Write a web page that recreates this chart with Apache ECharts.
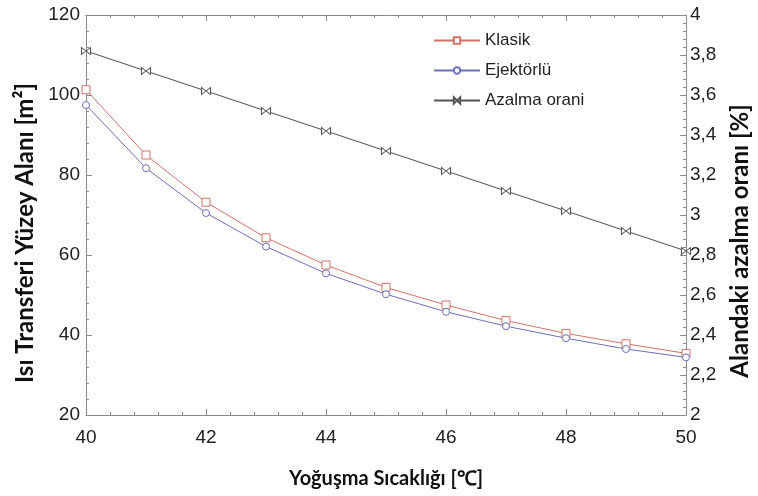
<!DOCTYPE html>
<html>
<head>
    <meta charset="utf-8">
    <title>Yoğuşma Sıcaklığı</title>
    <script src="https://cdn.jsdelivr.net/npm/echarts@6/dist/echarts.min.js"></script>
</head>
<body style="margin: 0">
<div id="main" style="width: 758px; height: 496px"></div>
<script type="text/javascript">
    // condensing temperature [C]
    var temps = [40, 41, 42, 43, 44, 45, 46, 47, 48, 49, 50];
    // heat transfer area [m2]
    var klasik = [101.3, 85.0, 73.2, 64.3, 57.5, 51.9, 47.5, 43.6, 40.4, 37.8, 35.4];
    var ejektorlu = [97.5, 81.7, 70.5, 62.1, 55.4, 50.2, 45.8, 42.2, 39.2, 36.5, 34.4];
    // reduction ratio [%]
    var azalma = [3.82, 3.72, 3.62, 3.52, 3.42, 3.32, 3.22, 3.12, 3.02, 2.92, 2.82];

    var frameColor = '#8a8a8a';
    var labelFont = 'Liberation Sans';
    var titleFont = 'Lato';
    var bowtie = 'path://M0,0L10,10L10,0L0,10Z';

    function pairs(ys) {
        var res = [];
        for (var i = 0; i < temps.length; i++) {
            res.push([temps[i], ys[i]]);
        }
        return res;
    }

    function axisCommon(extra) {
        var base = {
            axisLine: { show: true, lineStyle: { color: frameColor, width: 1 } },
            axisTick: { show: true, inside: true, length: 6, lineStyle: { color: frameColor } },
            minorTick: { show: true, splitNumber: 5, length: 3, lineStyle: { color: frameColor } },
            splitLine: { show: false },
            axisLabel: { color: '#222', fontFamily: labelFont, fontSize: 19 }
        };
        for (var k in extra) base[k] = extra[k];
        return base;
    }

    function titleStyle(size, shiftDown) {
        // padding on the right pushes rotated text downwards
        return {
            fontFamily: titleFont, fontWeight: 'bold', fontSize: size, color: '#111',
            padding: [0, shiftDown * 2, 0, 0]
        };
    }

    var myChart = echarts.init(document.getElementById('main'));
    var option = {
        backgroundColor: '#fff',
        animation: false,
        grid: { left: 86, right: 72, top: 15, bottom: 81, containLabel: false, outerBoundsMode: 'none' },
        legend: {
            orient: 'vertical',
            left: 428,
            top: 27,
            itemWidth: 46,
            itemHeight: 8,
            itemGap: 13,
            textStyle: { fontFamily: labelFont, fontSize: 17, color: '#222' },
            data: ['Klasik', 'Ejektörlü', 'Azalma orani']
        },
        xAxis: [
            axisCommon({
                type: 'value', min: 40, max: 50, interval: 2, position: 'bottom',
                name: 'Yoğuşma Sıcaklığı [℃]', nameLocation: 'middle', nameGap: 54,
                nameTextStyle: titleStyle(20, 0),
                axisLabel: { color: '#222', fontFamily: labelFont, fontSize: 19, margin: 13 }
            }),
            axisCommon({
                type: 'value', min: 40, max: 50, interval: 2, position: 'top',
                axisLabel: { show: false }
            })
        ],
        yAxis: [
            axisCommon({
                type: 'value', min: 20, max: 120, interval: 20, position: 'left',
                name: 'Isı Transferi Yüzey Alanı [m²]', nameLocation: 'middle', nameGap: 49,
                nameTextStyle: titleStyle(24, 18),
                axisLabel: { color: '#222', fontFamily: labelFont, fontSize: 19, margin: 6 }
            }),
            axisCommon({
                type: 'value', min: 2, max: 4, interval: 0.2, position: 'right',
                name: 'Alandaki azalma oranı [%]', nameLocation: 'middle', nameGap: 42, nameRotate: 90,
                nameTextStyle: titleStyle(24, 26),
                axisLabel: {
                    color: '#222', fontFamily: labelFont, fontSize: 19, margin: 4,
                    formatter: function (v) { return String(+v.toFixed(1)).replace('.', ','); }
                }
            })
        ],
        series: [
            {
                name: 'Klasik',
                type: 'line',
                data: pairs(klasik),
                symbol: 'rect',
                symbolSize: 8,
                lineStyle: { color: '#cf7467', width: 1 },
                itemStyle: { color: '#fff', borderColor: '#cf7467', borderWidth: 1 }
            },
            {
                name: 'Ejektörlü',
                type: 'line',
                data: pairs(ejektorlu),
                symbol: 'circle',
                symbolSize: 7,
                lineStyle: { color: '#6a6fbb', width: 1 },
                itemStyle: { color: '#fff', borderColor: '#6a6fbb', borderWidth: 1 }
            },
            {
                name: 'Azalma orani',
                type: 'line',
                yAxisIndex: 1,
                data: pairs(azalma),
                symbol: bowtie,
                symbolSize: [9, 7],
                lineStyle: { color: '#555', width: 1 },
                itemStyle: { color: '#fff', borderColor: '#555', borderWidth: 1 }
            }
        ]
    };
    myChart.setOption(option);
</script>
</body>
</html>
